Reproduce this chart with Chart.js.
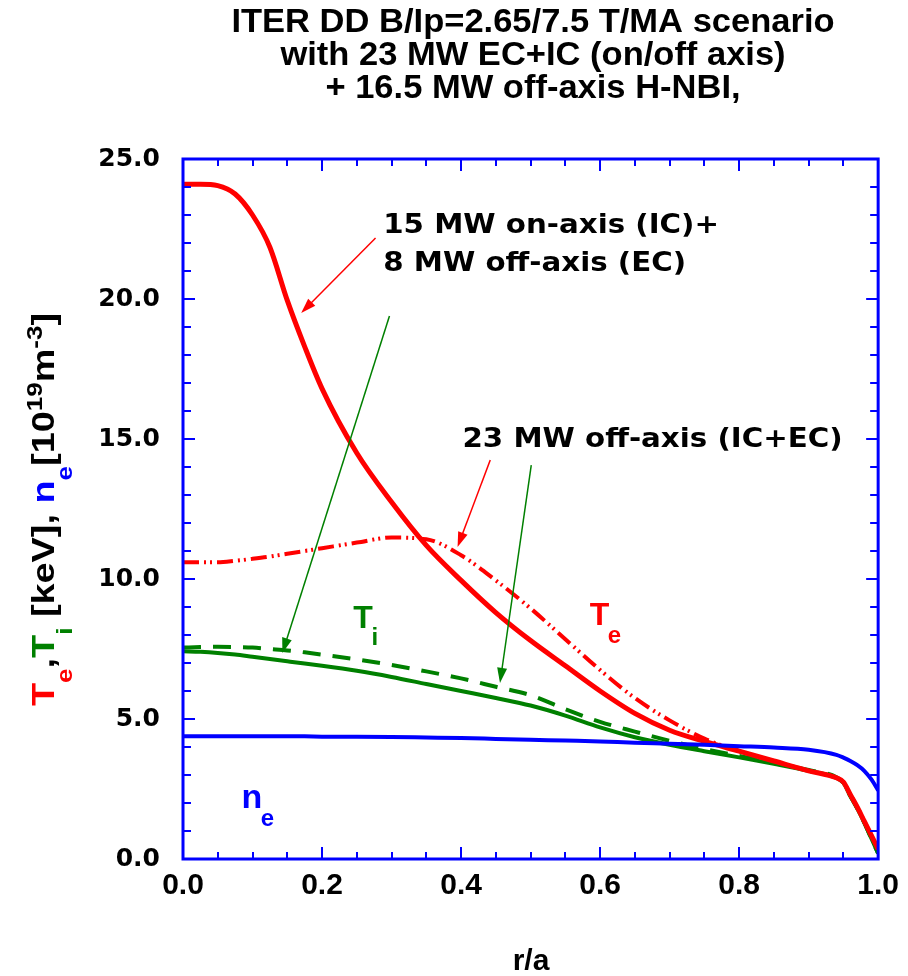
<!DOCTYPE html>
<html lang="en">
<head>
<meta charset="UTF-8">
<title>ITER DD B/Ip=2.65/7.5 T/MA scenario</title>
<script src="https://cdn.jsdelivr.net/npm/chart.js"></script>
<style>
  html, body { margin: 0; padding: 0; background: #fff; }
  #wrap { width: 908px; height: 976px; }
</style>
</head>
<body>
<div id="wrap"><canvas id="chart" width="908" height="976"></canvas></div>
<script>
// normalised radius r/a
const rho = [0, 0.025, 0.05, 0.075, 0.1, 0.125, 0.15, 0.175, 0.2, 0.25, 0.3, 0.35, 0.4, 0.45, 0.5,
             0.55, 0.6, 0.65, 0.7, 0.75, 0.8, 0.85, 0.9, 0.94, 0.95, 0.96, 0.97, 0.98, 0.99, 1.0];

// 15 MW on-axis (IC) + 8 MW off-axis (EC)
const teOnAxis = [24.1, 24.1, 24.05, 23.75, 23.0, 21.85, 19.95, 18.3, 16.8, 14.5, 12.75, 11.2, 9.95, 8.8, 7.8,
                  6.9, 6.0, 5.2, 4.6, 4.2, 3.85, 3.5, 3.15, 2.9, 2.75, 2.3, 1.85, 1.35, 0.85, 0.35];
const tiOnAxis = [7.42, 7.4, 7.36, 7.3, 7.22, 7.14, 7.06, 6.98, 6.9, 6.72, 6.5, 6.25, 6.0, 5.75, 5.48,
                  5.12, 4.7, 4.35, 4.08, 3.85, 3.63, 3.4, 3.15, 2.9, 2.72, 2.25, 1.8, 1.3, 0.75, 0.2];

// 23 MW off-axis (IC+EC)
const teOffAxis = [10.6, 10.6, 10.6, 10.65, 10.72, 10.8, 10.9, 11.0, 11.1, 11.3, 11.48, 11.42, 10.85, 9.95, 8.95,
                   7.85, 6.75, 5.75, 4.95, 4.3, 3.85, 3.5, 3.15, 2.9, 2.75, 2.3, 1.85, 1.35, 0.85, 0.35];
const tiOffAxis = [7.55, 7.57, 7.58, 7.57, 7.55, 7.5, 7.45, 7.38, 7.3, 7.13, 6.93, 6.7, 6.45, 6.15, 5.85,
                   5.35, 4.9, 4.55, 4.22, 3.93, 3.68, 3.44, 3.18, 2.92, 2.72, 2.25, 1.8, 1.3, 0.75, 0.2];

// electron density, 10^19 m^-3
const neProfile = [4.38, 4.38, 4.38, 4.38, 4.38, 4.38, 4.38, 4.38, 4.37, 4.37, 4.36, 4.34, 4.32, 4.29, 4.26,
                   4.23, 4.2, 4.15, 4.12, 4.08, 4.03, 3.98, 3.9, 3.72, 3.62, 3.5, 3.35, 3.15, 2.85, 2.45];

const xTickMajor = 0.2;
const yTickMajor = 5;

const titleLines = [
  'ITER DD B/Ip=2.65/7.5 T/MA scenario',
  'with 23 MW EC+IC (on/off axis)',
  '+ 16.5 MW off-axis H-NBI,'
];

const RED = '#ff0000', GREEN = '#008000', BLUE = '#0000ff', BLACK = '#000000';
const SANS = '"Liberation Sans", Arial, sans-serif';
const WIDE = '"DejaVu Sans", Verdana, sans-serif';

function pts(ys) {
  return rho.map((r, i) => ({ x: r, y: ys[i] }));
}

function line(data, color, width, dash) {
  return {
    data: pts(data),
    borderColor: color,
    borderWidth: width,
    borderDash: dash || [],
    pointRadius: 0,
    fill: false,
    cubicInterpolationMode: 'monotone'
  };
}

function txt(ctx, s, x, y, size, color, family, align, sx) {
  ctx.save();
  ctx.font = 'bold ' + size + 'px ' + family;
  ctx.fillStyle = color;
  ctx.textBaseline = 'alphabetic';
  ctx.textAlign = align || 'left';
  ctx.translate(x, y);
  ctx.scale(sx || 1, 1);
  ctx.fillText(s, 0, 0);
  ctx.restore();
}

function arrow(ctx, x0, y0, x1, y1, color) {
  const a = Math.atan2(y1 - y0, x1 - x0);
  const len = 15, half = 5;
  ctx.save();
  ctx.strokeStyle = color;
  ctx.fillStyle = color;
  ctx.lineWidth = 1.5;
  ctx.beginPath();
  ctx.moveTo(x0, y0);
  ctx.lineTo(x1 - Math.cos(a) * len * 0.8, y1 - Math.sin(a) * len * 0.8);
  ctx.stroke();
  ctx.beginPath();
  ctx.moveTo(x1, y1);
  ctx.lineTo(x1 - Math.cos(a) * len - Math.sin(a) * half, y1 - Math.sin(a) * len + Math.cos(a) * half);
  ctx.lineTo(x1 - Math.cos(a) * len + Math.sin(a) * half, y1 - Math.sin(a) * len - Math.cos(a) * half);
  ctx.closePath();
  ctx.fill();
  ctx.restore();
}

// text runs drawn along one baseline; dy shifts sub/superscripts
function richText(ctx, runs, x, y, angle, fitLength) {
  ctx.save();
  ctx.translate(x, y);
  ctx.rotate(angle);
  let total = 0;
  runs.forEach(r => {
    ctx.font = 'bold ' + r.size + 'px ' + SANS;
    r.w = ctx.measureText(r.t).width;
    total += r.w;
  });
  const k = fitLength ? fitLength / total : 1;
  ctx.scale(k, 1);
  let cx = 0;
  runs.forEach(r => {
    ctx.font = 'bold ' + r.size + 'px ' + SANS;
    ctx.fillStyle = r.c;
    ctx.fillText(r.t, cx, r.dy || 0);
    cx += r.w;
  });
  ctx.restore();
}

const decorations = {
  id: 'decorations',
  afterDraw(chart) {
    const ctx = chart.ctx;
    const xs = chart.scales.x, ys = chart.scales.y;
    const a = chart.chartArea;
    const px = v => xs.getPixelForValue(v);
    const py = v => ys.getPixelForValue(v);

    // frame
    ctx.save();
    ctx.strokeStyle = BLUE;
    ctx.lineWidth = 3;
    ctx.strokeRect(a.left, a.top, a.right - a.left, a.bottom - a.top);

    // inward tick marks on all four sides
    ctx.lineWidth = 2;
    ctx.beginPath();
    xs.ticks.forEach(t => {
      const x = Math.round(px(t.value));
      const l = t.label !== '' ? 12 : 7;
      ctx.moveTo(x, a.bottom); ctx.lineTo(x, a.bottom - l);
      ctx.moveTo(x, a.top); ctx.lineTo(x, a.top + l);
    });
    ys.ticks.forEach(t => {
      const y = Math.round(py(t.value));
      const l = t.label !== '' ? 12 : 8;
      ctx.moveTo(a.left, y); ctx.lineTo(a.left + l, y);
      ctx.moveTo(a.right, y); ctx.lineTo(a.right - l, y);
    });
    ctx.stroke();
    ctx.restore();

    // title
    titleLines.forEach((s, i) => txt(ctx, s, 533, 32 + i * 33, 34, BLACK, SANS, 'center', 1.015));

    // x axis title
    txt(ctx, 'r/a', 531, 970, 30, BLACK, SANS, 'center');

    // y axis title
    richText(ctx, [
      { t: 'T', c: RED, size: 32 },
      { t: 'e', c: RED, size: 22, dy: 18 },
      { t: ',', c: BLACK, size: 32 },
      { t: 'T', c: GREEN, size: 32 },
      { t: 'i', c: GREEN, size: 22, dy: 18 },
      { t: ' [keV], ', c: BLACK, size: 32 },
      { t: 'n', c: BLUE, size: 32 },
      { t: 'e', c: BLUE, size: 22, dy: 18 },
      { t: '[10', c: BLACK, size: 32 },
      { t: '19', c: BLACK, size: 22, dy: -12 },
      { t: 'm', c: BLACK, size: 32 },
      { t: '-3', c: BLACK, size: 22, dy: -12 },
      { t: ']', c: BLACK, size: 32 }
    ], 54, 706, -Math.PI / 2, 393);

    // annotations
    txt(ctx, '15 MW on-axis (IC)+', px(0.288), py(22.36), 27, BLACK, WIDE, 'left', 1.085);
    txt(ctx, '8 MW off-axis (EC)', px(0.288), py(21.0), 27, BLACK, WIDE, 'left', 1.085);
    txt(ctx, '23 MW off-axis (IC+EC)', px(0.402), py(14.71), 27, BLACK, WIDE, 'left', 1.085);

    arrow(ctx, px(0.277), py(22.18), px(0.170), py(19.5), RED);
    arrow(ctx, px(0.297), py(19.39), px(0.143), py(7.36), GREEN);
    arrow(ctx, px(0.442), py(14.25), px(0.395), py(11.14), RED);
    arrow(ctx, px(0.501), py(14.07), px(0.456), py(6.29), GREEN);

    // curve labels
    txt(ctx, 'T', px(0.585), py(8.36), 32, RED, SANS);
    txt(ctx, 'e', px(0.611), py(7.71), 24, RED, SANS);
    txt(ctx, 'T', px(0.245), py(8.25), 32, GREEN, SANS);
    txt(ctx, 'i', px(0.271), py(7.65), 24, GREEN, SANS);
    txt(ctx, 'n', px(0.084), py(1.82), 34, BLUE, SANS);
    txt(ctx, 'e', px(0.112), py(1.18), 24, BLUE, SANS);
  }
};

new Chart(document.getElementById('chart'), {
  type: 'line',
  data: {
    datasets: [
      line(neProfile, BLUE, 4),
      line(teOffAxis, RED, 4, [16, 5, 2, 4, 2, 5]),
      line(teOnAxis, RED, 5),
      line(tiOffAxis, GREEN, 4, [18, 12]),
      line(tiOnAxis, GREEN, 4)
    ]
  },
  options: {
    responsive: false,
    animation: false,
    layout: { padding: { top: 159, right: 24, left: 0, bottom: 0 } },
    plugins: { legend: { display: false }, tooltip: { enabled: false } },
    scales: {
      x: {
        type: 'linear',
        min: 0,
        max: 1,
        afterFit(s) { s.height = 117; },
        grid: { display: false, drawTicks: false },
        border: { display: false },
        ticks: {
          stepSize: 0.05,
          autoSkip: false,
          maxRotation: 0,
          padding: 9,
          color: BLACK,
          font: { family: SANS, size: 30, weight: 'bold' },
          callback: v => Math.abs(v / xTickMajor - Math.round(v / xTickMajor)) < 1e-6 ? v.toFixed(1) : ''
        }
      },
      y: {
        type: 'linear',
        min: 0,
        max: 25,
        afterFit(s) { s.width = 183; },
        grid: { display: false, drawTicks: false },
        border: { display: false },
        ticks: {
          stepSize: 1,
          autoSkip: false,
          padding: 23,
          color: BLACK,
          font: { family: WIDE, size: 25, weight: 'bold' },
          callback: v => v % yTickMajor === 0 ? v.toFixed(1) : ''
        }
      }
    }
  },
  plugins: [decorations]
});
</script>
</body>
</html>
